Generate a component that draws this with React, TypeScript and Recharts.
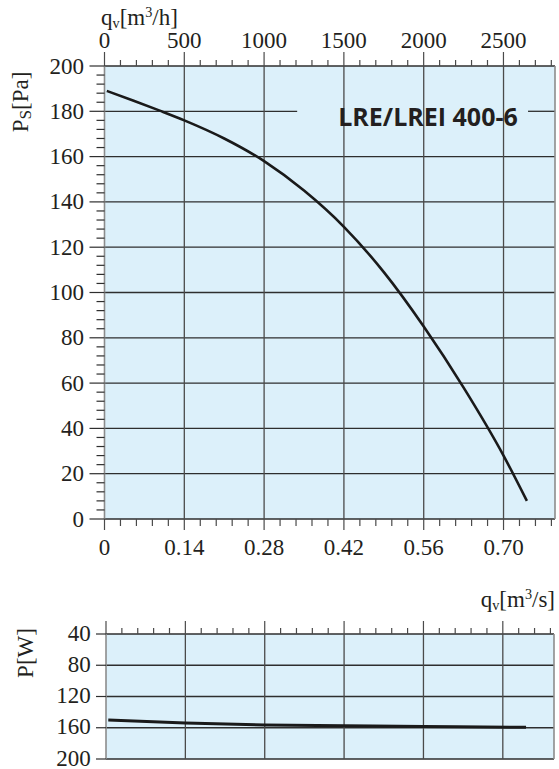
import React from 'react';
import { LineChart, Line, XAxis, YAxis, CartesianGrid, ReferenceLine, ReferenceArea } from 'recharts';

const SERIF = '"Liberation Serif", "Times New Roman", serif';
const INK = '#231f20';
const GRID_H = '#2e2e2e';
const GRID_V = '#4a4a4a';
const BORDER = '#8c8c8c';
const PLOT_BG = '#dcf0fa';

// static pressure curve: q [m³/s] -> Ps [Pa]
const flowForPressure = [0.004, 0.05, 0.097, 0.14, 0.21, 0.28, 0.35, 0.42, 0.49, 0.56, 0.63, 0.7, 0.741];
const pressure = [189, 184.8, 180.3, 176, 168, 158, 145, 129, 109, 85, 58, 28, 8];

// power curve: q [m³/s] -> P [W]
const flowForPower = [0.004, 0.14, 0.28, 0.42, 0.56, 0.741];
const power = [150, 154, 156.5, 157.5, 158.5, 159.5];

// axes
const qsTicks = [0, 0.14, 0.28, 0.42, 0.56, 0.7];
const qsLabels = ['0', '0.14', '0.28', '0.42', '0.56', '0.70'];
const qhTicks = [0, 500, 1000, 1500, 2000, 2500];
const psTicks = [0, 20, 40, 60, 80, 100, 120, 140, 160, 180, 200];
const pwTicks = [40, 80, 120, 160, 200];

// the two flow scales of the sheet: 0..0.7903 m³/s and 0..2823 m³/h over the same width
const QS_MAX = 0.7903;
const QH_MAX = 2823;
const H_PER_S = QH_MAX / QS_MAX;

const qsMinor = Array.from({ length: 29 }, (_, i) => +(i * 0.028).toFixed(3));
const qhMinor = Array.from({ length: 29 }, (_, i) => i * 100);
const qhMinorPos = qhMinor.map((v) => v / H_PER_S);
const psMinor = Array.from({ length: 51 }, (_, i) => i * 4);

const pressureData = flowForPressure.map((q, i) => ({ q, ps: pressure[i] }));
const powerData = flowForPower.map((q, i) => ({ q, pw: power[i] }));

const isMajor = (v: number, majors: number[]) => majors.some((m) => Math.abs(m - v) < 1e-6);

const numText = {
  fontFamily: SERIF,
  fontSize: 23,
  fill: INK,
};

function HourTick(props: any) {
  const { x, y, payload } = props;
  const hour = Math.round(payload.value * H_PER_S);
  const major = qhTicks.includes(hour);
  return (
    <g>
      <line x1={x} x2={x} y1={y} y2={y - (major ? 14 : 6)} stroke={GRID_V} strokeWidth={1.2} />
      {major && (
        <text x={x} y={y - 26} textAnchor="middle" dominantBaseline="central" {...numText}>
          {hour}
        </text>
      )}
    </g>
  );
}

function SecondTick(props: any) {
  const { x, y, payload } = props;
  const idx = qsTicks.findIndex((m) => Math.abs(m - payload.value) < 1e-6);
  const major = idx >= 0;
  return (
    <g>
      <line x1={x} x2={x} y1={y} y2={y + (major ? 11 : 7)} stroke={GRID_V} strokeWidth={1.2} />
      {major && (
        <text x={x} y={y + 28} textAnchor="middle" dominantBaseline="central" {...numText}>
          {qsLabels[idx]}
        </text>
      )}
    </g>
  );
}

function PressureTick(props: any) {
  const { x, y, payload } = props;
  const major = isMajor(payload.value, psTicks);
  return (
    <g>
      <line x1={x - (major ? 15 : 8)} x2={x} y1={y} y2={y} stroke={GRID_H} strokeWidth={1.2} />
      {major && (
        <text x={x - 20.5} y={y} textAnchor="end" dominantBaseline="central" {...numText}>
          {payload.value}
        </text>
      )}
    </g>
  );
}

function PowerTopTick(props: any) {
  const { x, y, payload } = props;
  const major = isMajor(payload.value, qsTicks);
  return <line x1={x} x2={x} y1={y} y2={y - (major ? 13 : 6)} stroke={GRID_V} strokeWidth={1.2} />;
}

function PowerTick(props: any) {
  const { x, y, payload } = props;
  return (
    <g>
      <line x1={x - 10} x2={x} y1={y} y2={y} stroke={GRID_H} strokeWidth={1.2} />
      <text x={x - 15.3} y={y - 1} textAnchor="end" dominantBaseline="central" {...numText}>
        {payload.value}
      </text>
    </g>
  );
}

const sub = { fontSize: '0.62em', verticalAlign: '-0.25em' } as const;
const sup = { fontSize: '0.62em', verticalAlign: '0.55em' } as const;

const titleBase: React.CSSProperties = {
  position: 'absolute',
  fontFamily: SERIF,
  fontSize: 23,
  lineHeight: '23px',
  color: INK,
  whiteSpace: 'nowrap',
};

export default function App() {
  return (
    <div style={{ position: 'absolute', left: 0, top: 0, width: 559, height: 769, background: '#fff' }}>
      <div style={{ position: 'absolute', left: 0, top: 0 }}>
        <LineChart
          width={559}
          height={570}
          data={pressureData}
          margin={{ top: 20, right: 4, bottom: 11, left: 44.5 }}
        >
          <CartesianGrid fill={PLOT_BG} horizontal={false} vertical={false} />
          <XAxis
            xAxisId="h"
            dataKey="q"
            orientation="top"
            type="number"
            domain={[0, QS_MAX]}
            allowDataOverflow
            ticks={qhMinorPos}
            interval={0}
            height={46}
            tickSize={0}
            tickMargin={0}
            axisLine={false}
            tickLine={false}
            tick={<HourTick />}
          />
          <XAxis
            xAxisId="s"
            dataKey="q"
            type="number"
            domain={[0, QS_MAX]}
            allowDataOverflow
            ticks={qsMinor}
            interval={0}
            height={40}
            tickSize={0}
            tickMargin={0}
            axisLine={false}
            tickLine={false}
            tick={<SecondTick />}
          />
          <YAxis
            type="number"
            domain={[0, 200]}
            allowDataOverflow
            ticks={psMinor}
            interval={0}
            width={60}
            tickSize={0}
            tickMargin={0}
            axisLine={false}
            tickLine={false}
            tick={<PressureTick />}
          />
          {psTicks
            .filter((v) => v !== 180)
            .map((v) => (
              <ReferenceLine key={`h${v}`} xAxisId="s" y={v} stroke={GRID_H} strokeWidth={1.3} />
            ))}
          <ReferenceLine
            xAxisId="s"
            segment={[{ x: 0, y: 180 }, { x: 0.338, y: 180 }]}
            stroke={GRID_H}
            strokeWidth={1.3}
          />
          <ReferenceLine
            xAxisId="s"
            segment={[{ x: 0.743, y: 180 }, { x: QS_MAX, y: 180 }]}
            stroke={GRID_H}
            strokeWidth={1.3}
          />
          {qsTicks.slice(1).map((v) => (
            <ReferenceLine key={`v${v}`} xAxisId="s" x={v} stroke={GRID_V} strokeWidth={1.3} />
          ))}
          <ReferenceLine xAxisId="s" x={0} stroke={BORDER} strokeWidth={1.6} />
          <ReferenceLine xAxisId="s" x={QS_MAX} stroke={BORDER} strokeWidth={1.6} />
          <ReferenceArea
            xAxisId="s"
            x1={0.4}
            x2={0.735}
            y1={172.3}
            y2={182.3}
            fillOpacity={0}
            strokeOpacity={0}
            label={{
              value: 'LRE/LREI 400-6',
              position: 'center',
              fill: INK,
              fontSize: 25,
              fontWeight: 700,
              fontFamily: '"Open Sans", sans-serif',
            }}
          />
          <Line
            xAxisId="s"
            dataKey="ps"
            type="monotone"
            dot={false}
            stroke="#1a1a1a"
            strokeWidth={2.6}
            isAnimationActive={false}
          />
        </LineChart>
      </div>

      <div style={{ position: 'absolute', left: 0, top: 570 }}>
        <LineChart
          width={559}
          height={199}
          data={powerData}
          margin={{ top: 34, right: 5, bottom: 10, left: 46 }}
        >
          <CartesianGrid fill={PLOT_BG} horizontal={false} vertical={false} />
          <XAxis
            dataKey="q"
            orientation="top"
            type="number"
            domain={[0, QS_MAX]}
            allowDataOverflow
            ticks={qsMinor}
            interval={0}
            height={30}
            tickSize={0}
            tickMargin={0}
            axisLine={false}
            tickLine={false}
            tick={<PowerTopTick />}
          />
          <YAxis
            type="number"
            domain={[40, 200]}
            reversed
            allowDataOverflow
            ticks={pwTicks}
            interval={0}
            width={60}
            tickSize={0}
            tickMargin={0}
            axisLine={false}
            tickLine={false}
            tick={<PowerTick />}
          />
          {pwTicks.map((v) => (
            <ReferenceLine key={`ph${v}`} y={v} stroke={GRID_H} strokeWidth={1.3} />
          ))}
          {qsTicks.slice(1).map((v) => (
            <ReferenceLine key={`pv${v}`} x={v} stroke={GRID_V} strokeWidth={1.3} />
          ))}
          <ReferenceLine x={0} stroke={BORDER} strokeWidth={1.6} />
          <ReferenceLine x={QS_MAX} stroke={BORDER} strokeWidth={1.6} />
          <Line
            dataKey="pw"
            type="monotone"
            dot={false}
            stroke="#1a1a1a"
            strokeWidth={3}
            isAnimationActive={false}
          />
        </LineChart>
      </div>

      <div style={{ ...titleBase, left: 101, top: 1 }}>
        q<span style={sub}>v</span>[m<span style={sup}>3</span>/h]
      </div>
      <div style={{ ...titleBase, right: 4, top: 583 }}>
        q<span style={sub}>v</span>[m<span style={sup}>3</span>/s]
      </div>
      <div
        style={{
          ...titleBase,
          left: 23,
          top: 102,
          transform: 'translate(-50%, -50%) rotate(-90deg)',
        }}
      >
        P<span style={{ fontSize: '0.75em', verticalAlign: '-0.2em' }}>S</span>[Pa]
      </div>
      <div
        style={{
          ...titleBase,
          left: 25,
          top: 653,
          transform: 'translate(-50%, -50%) rotate(-90deg)',
        }}
      >
        P[W]
      </div>
    </div>
  );
}
